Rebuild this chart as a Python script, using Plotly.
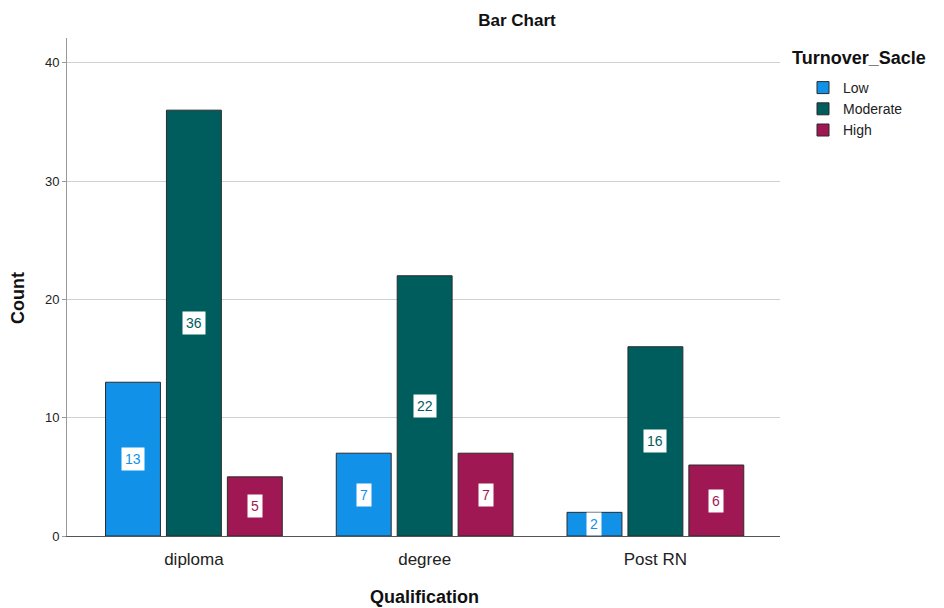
import plotly.graph_objects as go

# Counts of turnover level by nursing qualification
qualifications = ["diploma", "degree", "Post RN"]
levels = ["Low", "Moderate", "High"]
low_counts = [13, 7, 2]
moderate_counts = [36, 22, 16]
high_counts = [5, 7, 6]
series_values = [low_counts, moderate_counts, high_counts]
colors = ["#1192E8", "#005D5D", "#9F1853"]
y_ticks = [0, 10, 20, 30, 40]

FONT = "Liberation Sans, Arial, sans-serif"

# plot area in pixels
L, R, T, B = 67, 780, 38, 536
W, H = R - L, B - T

BARGAP = 0.208
BARGROUPGAP = 0.0985

fig = go.Figure()
for name, vals, col in zip(levels, series_values, colors):
    fig.add_trace(go.Bar(
        x=qualifications, y=vals, name=name,
        marker=dict(color=col, line=dict(color="#2b2b2b", width=1)),
    ))

# value labels in white boxes at the middle of each bar
n = len(levels)
group_w = 1 - BARGAP
slot = group_w / n
for si, (vals, col) in enumerate(zip(series_values, colors)):
    offset = -group_w / 2 + slot * (si + 0.5)
    for ci, v in enumerate(vals):
        fig.add_annotation(
            x=ci + offset, y=v / 2, xref="x", yref="y",
            text=str(v), showarrow=False,
            font=dict(family=FONT, size=14, color=col),
            bgcolor="white", borderpad=3,
        )

fig.update_layout(
    width=944, height=608,
    margin=dict(l=L, r=944 - R, t=T, b=608 - B),
    paper_bgcolor="white", plot_bgcolor="white",
    barmode="group", bargap=BARGAP, bargroupgap=BARGROUPGAP,
    font=dict(family=FONT, color="#222"),
    title=dict(text="<b>Bar Chart</b>", x=517 / 944, xanchor="center",
               y=1 - 20 / 608, yanchor="middle",
               font=dict(family=FONT, size=17, color="#111")),
    showlegend=True,
    legend=dict(
        x=(803 - L) / W, xanchor="left",
        y=(B - 72) / H, yanchor="top",
        font=dict(family=FONT, size=14, color="#222"),
        tracegroupgap=0, itemwidth=30,
        bgcolor="rgba(0,0,0,0)",
    ),
)

# legend heading and axis titles
fig.add_annotation(
    x=(790 - L) / W, y=(B - 58) / H, xref="paper", yref="paper",
    xanchor="left", yanchor="middle", showarrow=False,
    text="<b>Turnover_Sacle</b>",
    font=dict(family=FONT, size=18, color="#111"),
)
fig.add_annotation(
    x=(424 - L) / W, y=(B - 597) / H, xref="paper", yref="paper",
    xanchor="center", yanchor="middle", showarrow=False,
    text="<b>Qualification</b>",
    font=dict(family=FONT, size=18, color="#111"),
)
fig.add_annotation(
    x=(18 - L) / W, y=(B - 298) / H, xref="paper", yref="paper",
    xanchor="center", yanchor="middle", showarrow=False, textangle=-90,
    text="<b>Count</b>",
    font=dict(family=FONT, size=18, color="#111"),
)

fig.update_xaxes(
    type="category", range=[-0.55, 2.54], automargin=False,
    showline=True, linecolor="#555", linewidth=1,
    ticks="", ticklabelstandoff=8,
    tickfont=dict(family=FONT, size=17, color="#222"),
    showgrid=False, zeroline=False,
)
fig.update_yaxes(
    range=[0, 42.1], tickvals=y_ticks, automargin=False,
    showline=True, linecolor="#999", linewidth=1,
    ticks="outside", ticklen=4, tickcolor="#999",
    tickfont=dict(family=FONT, size=13, color="#222"),
    showgrid=True, gridcolor="#d0d0d0", gridwidth=1.2,
    zeroline=False,
)

fig.write_html("out.html")
